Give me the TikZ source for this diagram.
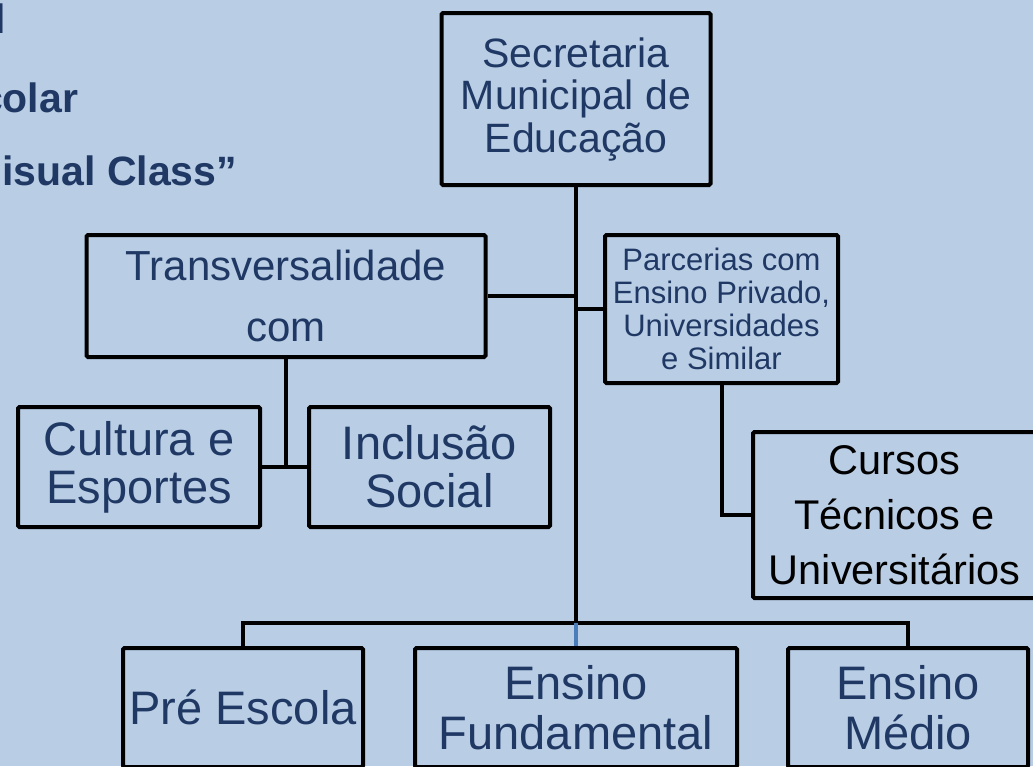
\documentclass[tikz,border=0pt]{standalone}
\usepackage{fontspec}
\setmainfont{Liberation Sans}
\definecolor{bgblue}{HTML}{B9CDE5}
\definecolor{navy}{HTML}{1F3864}
\definecolor{steel}{HTML}{4A7EBB}
\begin{document}
\begin{tikzpicture}[x=1pt,y=-1pt,line width=4pt,
  box node/.style={rectangle,draw=black,rounded corners=1.5pt,fill=bgblue,text=navy,align=center,inner sep=0pt},
  head node/.style={font=\bfseries\fontsize{41}{41}\selectfont,text=navy,inner sep=0pt},
  blue link/.style={draw=steel}]

  \useasboundingbox (0,0) rectangle (1033,766);
  \fill[bgblue] (0,0) rectangle (1033,766);
  \clip (0,0) rectangle (1033,766);

  \node[head node,anchor=base east] (h1) at (8,33) {l};
  \node[head node,anchor=base east] (h2) at (80,112) {colar};
  \node[head node,anchor=base east] (h3) at (239,185) {isual Class”};

  \node[box node,minimum width=269pt,minimum height=172pt,font=\fontsize{41}{42.5}\selectfont] (sec) at (576,99) {Secretaria\\Municipal de\\Educação};
  \coordinate (split) at (576,623);

  \node[box node,minimum width=399pt,minimum height=122pt,font=\fontsize{42}{61}\selectfont] (trans) at (286,296) {Transversalidade\\com};
  \node[box node,minimum width=233pt,minimum height=148pt,font=\fontsize{31}{33}\selectfont] (parc) at (721.5,309) {Parcerias com\\Ensino Privado,\\Universidades\\e Similar};

  \node[box node,minimum width=242pt,minimum height=120pt,font=\fontsize{47}{48}\selectfont] (cult) at (139,467) {Cultura e\\Esportes};
  \node[box node,minimum width=241pt,minimum height=120pt,font=\fontsize{47}{48}\selectfont] (incl) at (429.5,467) {Inclusão\\Social};

  \node[box node,minimum width=283pt,minimum height=166pt,font=\fontsize{41.5}{55}\selectfont,text=black] (curs) at (894.5,515) {Cursos\\Técnicos e\\Universitários};

  \node[box node,minimum width=240pt,minimum height=119pt,font=\fontsize{47}{50}\selectfont] (pre) at (243,707.5) {Pré Escola};
  \node[box node,minimum width=322pt,minimum height=119pt,font=\fontsize{47}{50}\selectfont] (fund) at (576,707.5) {Ensino\\Fundamental};
  \node[box node,minimum width=240pt,minimum height=119pt,font=\fontsize{47}{50}\selectfont] (med) at (908,707.5) {Ensino\\Médio};

  \draw (sec) -- (split);
  \draw (trans) -- (trans -| split);
  \draw (parc) -- (parc -| split);
  \draw (trans) -- (trans |- cult);
  \draw (cult) -- (incl);
  \draw (parc) |- (curs);
  \draw (pre) |- (split) -| (med);
  \draw[blue link] (split) -- (fund);
\end{tikzpicture}
\end{document}
